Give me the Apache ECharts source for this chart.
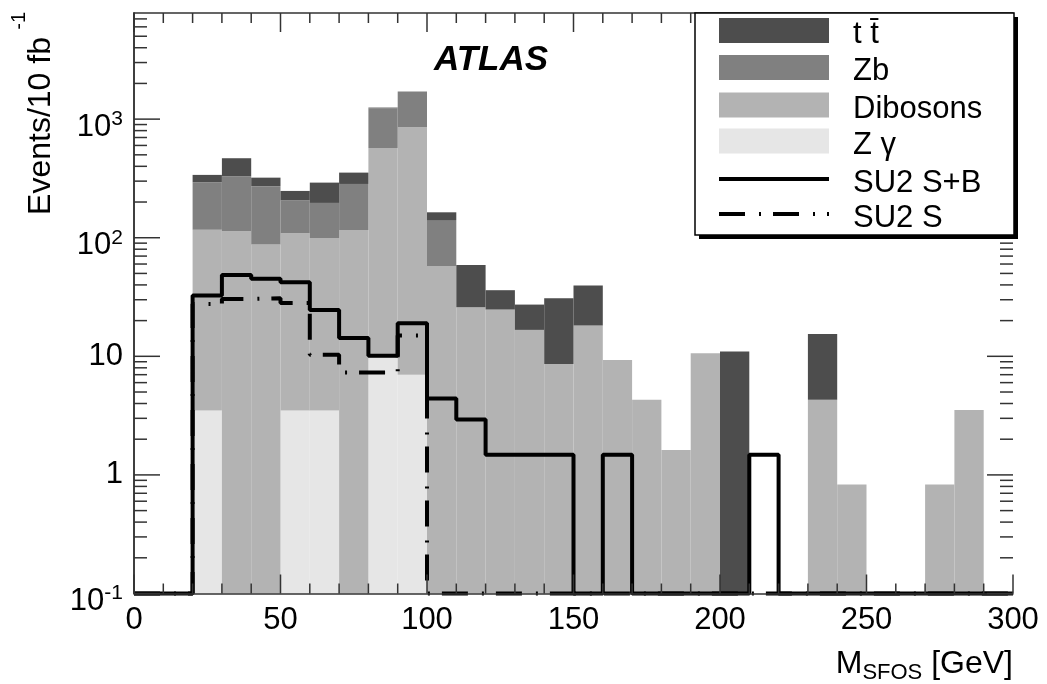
<!DOCTYPE html>
<html><head><meta charset="utf-8">
<script src="https://cdn.jsdelivr.net/npm/echarts@6.0.0/dist/echarts.min.js"></script>
<style>html,body{margin:0;padding:0;background:#fff}#c{width:1047px;height:684px}</style>
</head><body><div id="c"></div>
<script>
// ---- data ----
const binLow = [0,10,20,30,40,50,60,70,80,90,100,110,120,130,140,150,160,170,180,190,200,210,220,230,240,250,260,270,280,290];
const binWidth = 10;
const ttbar    = [0,0,44.8,138,49,41,95,70,15,0,23,33,11.3,10.6,22.3,21.3,0,0,0,0,11.0,0,0,11.1,0,0,0,0,0,0];
const zb       = [0,0,176.8,216.5,184.5,98,97,167.6,664,851,83,0,0,0,0,0,0,0,0,0,0,0,0,0,0,0,0,0,0,0];
const dibosons = [0,0,113.5,113.5,87.5,105.5,96,116.4,562,848,57.8,25.9,24.8,16.7,8.6,18.2,9.3,4.31,1.62,10.6,0,0,0,4.31,0.83,0,0,0.83,3.53,0];
const zgamma   = [0,0,3.5,0,0,3.5,3.5,0,9.8,7.0,0,0,0,0,0,0,0,0,0,0,0,0,0,0,0,0,0,0,0,0];
const su2SB    = [0,0,32.5,48.6,45,42.2,24.6,14.3,10.1,19.0,4.4,2.93,1.48,1.48,1.48,0,1.48,0,0,0,0,1.48,0,0,0,0,0,0,0,0];
const su2S     = [0,0,27.6,30.5,30.9,28.2,10.3,7.3,7.3,15.0,0,0,0,0,0,0,0,0,0,0,0,0,0,0,0,0,0,0,0,0];
const layerNames  = ['Z \u03b3','Dibosons','Zb','t t\u0304'];
const layerValues = [zgamma, dibosons, zb, ttbar];
const layerColors = ['#e6e6e6','#b3b3b3','#808080','#4d4d4d'];
const xTickMajor = [0,50,100,150,200,250,300];
const yDecades = [-1,0,1,2,3];
const xMin = 0, xMax = 300, yMin = 0.1, yMax = 7850;

const F = 'Liberation Sans, Arial, Helvetica, sans-serif';
const TICK = '#333';

function layerData(idx) {
  return binLow.map((x, i) => {
    let base = 0;
    for (let k = 0; k < idx; k++) base += layerValues[k][i];
    const v = layerValues[idx][i];
    const top = base + v;
    return [x, x + binWidth, Math.max(base, yMin), v > 0 ? top : Math.max(base, yMin)];
  });
}
function renderRect(params, api) {
  const x0 = api.value(0), x1 = api.value(1), y0 = api.value(2), y1 = api.value(3);
  if (!(y1 > y0)) return null;
  const pTop = api.coord([x0, y1]);
  const pBot = api.coord([x1, y0]);
  return { type: 'rect', shape: { x: pTop[0], y: pTop[1], width: pBot[0] - pTop[0], height: pBot[1] - pTop[1] },
           style: { fill: api.visual('color') } };
}
function stepData(vals) {
  const pts = binLow.map((x, i) => [x, Math.max(vals[i], yMin)]);
  pts.push([xMax, Math.max(vals[vals.length - 1], yMin)]);
  return pts;
}
// tick marks: [x, y, kind]  kind 0 = y major, 1 = y minor, 2 = x major, 3 = x minor
const tickData = [];
yDecades.forEach(e => {
  tickData.push([xMin, Math.pow(10, e), 0]);
  for (let m = 2; m <= 9; m++) { const v = m * Math.pow(10, e); if (v < yMax) tickData.push([xMin, v, 1]); }
});
xTickMajor.forEach((x, i) => {
  tickData.push([x, yMin, 2]);
  if (i < xTickMajor.length - 1) for (let m = 1; m < 5; m++) tickData.push([x + m * 10, yMin, 3]);
});
const tickLen = [26, 13, 19, 10];
function renderTick(params, api) {
  const kind = api.value(2), L = tickLen[kind];
  const st = { stroke: TICK, lineWidth: 1.5 };
  if (kind < 2) {
    const v = api.value(1);
    const pL = api.coord([xMin, v]), pR = api.coord([xMax, v]);
    return { type: 'group', children: [
      { type: 'line', shape: { x1: pL[0], y1: pL[1], x2: pL[0] + L, y2: pL[1] }, style: st },
      { type: 'line', shape: { x1: pR[0], y1: pR[1], x2: pR[0] - L, y2: pR[1] }, style: st } ] };
  }
  const x = api.value(0);
  const pB = api.coord([x, yMin]), pT = api.coord([x, yMax]);
  return { type: 'group', children: [
    { type: 'line', shape: { x1: pB[0], y1: pB[1], x2: pB[0], y2: pB[1] - L }, style: st },
    { type: 'line', shape: { x1: pT[0], y1: pT[1], x2: pT[0], y2: pT[1] + L }, style: st } ] };
}

const series = [];
for (let i = 0; i < 4; i++) {
  series.push({ name: layerNames[i], type: 'custom', renderItem: renderRect, data: layerData(i),
    encode: { x: [0, 1], y: [2, 3] }, itemStyle: { color: layerColors[i] }, z: 2, silent: true });
}
const sDash = [26, 14, 2, 12];
series.push({ name: 'SU2 S+B', type: 'line', step: 'end', data: stepData(su2SB), symbol: 'none', showSymbol: false,
  lineStyle: { color: '#000', width: 4 }, z: 5, clip: false, silent: true });
series.push({ name: 'SU2 S', type: 'line', step: 'end', data: stepData(su2S), symbol: 'none', showSymbol: false,
  lineStyle: { color: '#000', width: 4, type: sDash }, z: 5, clip: false, silent: true });
series.push({ type: 'custom', data: tickData, encode: { x: 0, y: 1 }, z: 7, silent: true, clip: false, renderItem: renderTick });

function yFmt(v) {
  const e = Math.log10(v);
  const r = Math.round(e);
  if (Math.abs(e - r) > 1e-6) return '';
  if (r === 0) return '1';
  if (r === 1) return '10';
  return '{n|10}{s|' + r + '}';
}
const axLine = { show: true, lineStyle: { color: TICK, width: 1.5 } };
const xCommon = { type: 'value', min: xMin, max: xMax, interval: 50, splitLine: { show: false }, axisLine: axLine, z: 6,
  axisTick: { show: false }, minorTick: { show: false } };
const yCommon = { type: 'log', logBase: 10, min: yMin, max: yMax, splitLine: { show: false }, axisLine: axLine, z: 6,
  axisTick: { show: false }, minorTick: { show: false } };

// legend drawn as graphic: rows of [label, kind, colour]
const legendRows = [
  ['t t\u0304', 'rect', layerColors[3]],
  ['Zb', 'rect', layerColors[2]],
  ['Dibosons', 'rect', layerColors[1]],
  ['Z \u03b3', 'rect', layerColors[0]],
  ['SU2 S+B', 'solid', '#000'],
  ['SU2 S', 'dash', '#000']
];
const legendTop = [18, 55, 92.5, 128.5, 166.5, 201.5];
const legendGraphics = [
  { type: 'rect', z: 15, shape: { x: 699, y: 17, width: 319, height: 222 }, style: { fill: '#000' } },
  { type: 'rect', z: 16, shape: { x: 695, y: 13, width: 319, height: 222 }, style: { fill: '#fff', stroke: '#000', lineWidth: 1.5 } }
];
legendRows.forEach((row, i) => {
  const t = legendTop[i], cy = t + 12.5;
  if (row[1] === 'rect') {
    legendGraphics.push({ type: 'rect', z: 17, shape: { x: 719, y: t, width: 110, height: 25 }, style: { fill: row[2] } });
  } else {
    legendGraphics.push({ type: 'line', z: 17, shape: { x1: 719, y1: cy, x2: 829, y2: cy },
      style: { stroke: row[2], lineWidth: 4, lineDash: row[1] === 'dash' ? sDash : null } });
  }
  legendGraphics.push({ type: 'text', z: 17, x: 853, y: cy + 4,
    style: { text: row[0], font: '31px ' + F, fill: '#000', align: 'left', verticalAlign: 'middle' } });
});

const option = {
  animation: false,
  backgroundColor: '#fff',
  grid: { left: 134, right: 34, top: 13, bottom: 90.5, outerBoundsMode: 'none', containLabel: false },
  xAxis: [
    Object.assign({}, xCommon, { position: 'bottom', axisLabel: { fontSize: 31, fontFamily: F, color: '#000', margin: 11 } }),
    Object.assign({}, xCommon, { position: 'top', axisLabel: { show: false } })
  ],
  yAxis: [
    Object.assign({}, yCommon, { position: 'left', axisLabel: { fontSize: 31, fontFamily: F, color: '#000', margin: 11, formatter: yFmt,
      rich: { n: { fontSize: 31, fontFamily: F, color: '#000', padding: [16, 0, 0, 0] }, s: { fontSize: 21, fontFamily: F, color: '#000' } } } }),
    Object.assign({}, yCommon, { position: 'right', axisLabel: { show: false } })
  ],
  graphic: legendGraphics.concat([
    { type: 'text', z: 16, x: 491, y: 60, style: { text: 'ATLAS', font: 'italic bold 35px ' + F, fill: '#000', align: 'center', verticalAlign: 'middle' } },
    { type: 'text', z: 16, x: 1013, y: 664, style: { text: 'M{s|SFOS} [GeV]', font: '32px ' + F, fill: '#000', align: 'right', verticalAlign: 'middle',
        rich: { s: { fontSize: 22, fontFamily: F, fill: '#000', padding: [17, 0, 0, 0] } } } },
    { type: 'text', z: 16, x: 41, y: 37, rotation: Math.PI / 2, style: { text: 'Events/10 fb', font: '32px ' + F, fill: '#000', align: 'right', verticalAlign: 'middle' } },
    { type: 'text', z: 16, x: 19, y: 12, rotation: Math.PI / 2, style: { text: '-1', font: '20px ' + F, fill: '#000', align: 'right', verticalAlign: 'middle' } }
  ]),
  series: series
};
const chart = echarts.init(document.getElementById('c'), null, { renderer: 'canvas' });
chart.setOption(option);
</script>
</body></html>
